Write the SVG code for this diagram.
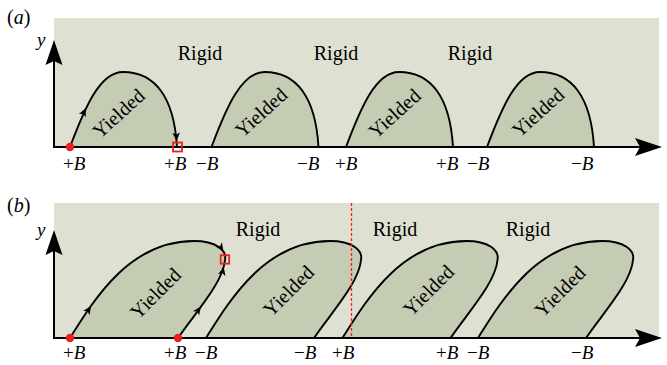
<svg xmlns="http://www.w3.org/2000/svg" xmlns:xlink="http://www.w3.org/1999/xlink" width="667" height="365" viewBox="0 0 667 365">
<style>
text{font-family:"Liberation Serif","Times New Roman",serif;fill:#000}
.bg{fill:#dee0d2}
.lobe{fill:#c4ccb3;stroke:#000;stroke-width:1.9}
.line{fill:none;stroke:#000;stroke-width:1.9}
.axis{stroke:#000;stroke-width:2;fill:none}
.lbl{font-size:19px}
.rig{font-size:20px}
.yl{font-size:20px}
.it{font-style:italic}
.dot{fill:#e8201f}
.sq{fill:none;stroke:#e8201f;stroke-width:1.8}
</style>
<defs>
<path id="ah" d="M0,0 L-8.5,-3.8 L-6.3,0 L-8.5,3.8 Z" fill="#000"/>
<path id="lobeA" d="M0,0 C15,-40 30,-75 53,-75 C85,-75 104,-50 107,0 Z"/>
<path id="lobeB" d="M0,0 C25,-40 60,-97 124,-97 C146,-97 157,-88 155,-78 C153,-55 125,-25 108,0 Z"/>
</defs>

<!-- Panel (a) -->
<g id="panelA">
<rect class="bg" x="54" y="18" width="605" height="129"/>
<text x="7" y="24" font-size="20">(<tspan class="it">a</tspan>)</text>
<g id="a-lobe1"><use xlink:href="#lobeA" class="lobe" transform="translate(70,147)"/>
<text class="yl" transform="translate(119,114) rotate(-42)" text-anchor="middle" y="6">Yielded</text></g>
<g id="a-lobe2"><use xlink:href="#lobeA" class="lobe" transform="translate(211.5,147)"/>
<text class="yl" transform="translate(261.5,113) rotate(-42)" text-anchor="middle" y="6">Yielded</text></g>
<g id="a-lobe3"><use xlink:href="#lobeA" class="lobe" transform="translate(346,147)"/>
<text class="yl" transform="translate(395,114) rotate(-42)" text-anchor="middle" y="6">Yielded</text></g>
<g id="a-lobe4"><use xlink:href="#lobeA" class="lobe" transform="translate(487,147)"/>
<text class="yl" transform="translate(538.5,113) rotate(-42)" text-anchor="middle" y="6">Yielded</text></g>
<text class="rig" x="200" y="60" text-anchor="middle">Rigid</text>
<text class="rig" x="336" y="60" text-anchor="middle">Rigid</text>
<text class="rig" x="470" y="60" text-anchor="middle">Rigid</text>
<g id="a-axes">
<line class="axis" x1="54" y1="147" x2="642" y2="147"/>
<line class="axis" x1="54" y1="148" x2="54" y2="58"/>
<path d="M662,147 L635,138 L640,147 L635,156 Z"/>
<path d="M54,40 L45.5,65 L54,61 L62.5,65 Z"/>
<text x="37" y="46" font-size="19" class="it">y</text>
</g>
<g id="a-ticks" class="lbl">
<text x="63" y="170">+<tspan class="it">B</tspan></text>
<text x="164" y="170">+<tspan class="it">B</tspan></text>
<text x="196" y="170">−<tspan class="it">B</tspan></text>
<text x="297" y="170">−<tspan class="it">B</tspan></text>
<text x="335" y="170">+<tspan class="it">B</tspan></text>
<text x="436" y="170">+<tspan class="it">B</tspan></text>
<text x="467" y="170">−<tspan class="it">B</tspan></text>
<text x="571" y="170">−<tspan class="it">B</tspan></text>
</g>
<g id="a-markers">
<use xlink:href="#ah" transform="translate(86,108) rotate(-64)"/>
<use xlink:href="#ah" transform="translate(176.7,141) rotate(86)"/>
<circle class="dot" cx="70" cy="147" r="4.2"/>
<rect class="sq" x="173" y="142.5" width="9" height="9"/>
</g>
</g>

<!-- Panel (b) -->
<g id="panelB">
<rect class="bg" x="54" y="203" width="605" height="135"/>
<text x="7" y="212" font-size="20">(<tspan class="it">b</tspan>)</text>
<g id="b-lobe1">
<path d="M70,338 C95,298 130,241 194,241 C216,241 227,250 225,260 C223,283 195,313 178,338 Z" fill="#c4ccb3"/>
<path class="line" d="M70,338 C95,298 130,241 194,241 C216,241 227,250 225,260"/>
<path class="line" d="M178,338 C195,313 223,283 225,260"/>
<text class="yl" transform="translate(156,294) rotate(-45)" text-anchor="middle" y="6">Yielded</text>
</g>
<g id="b-lobe2"><use xlink:href="#lobeB" class="lobe" transform="translate(206,338)"/>
<text class="yl" transform="translate(289,291.5) rotate(-45)" text-anchor="middle" y="6">Yielded</text></g>
<g id="b-lobe3"><use xlink:href="#lobeB" class="lobe" transform="translate(342.5,338)"/>
<text class="yl" transform="translate(429,291) rotate(-45)" text-anchor="middle" y="6">Yielded</text></g>
<g id="b-lobe4"><use xlink:href="#lobeB" class="lobe" transform="translate(478,338)"/>
<text class="yl" transform="translate(560.5,292) rotate(-45)" text-anchor="middle" y="6">Yielded</text></g>
<text class="rig" x="258" y="236" text-anchor="middle">Rigid</text>
<text class="rig" x="395" y="236" text-anchor="middle">Rigid</text>
<text class="rig" x="528" y="236" text-anchor="middle">Rigid</text>
<line x1="351.5" y1="203" x2="351.5" y2="338" stroke="#ff1a1a" stroke-width="1.3" stroke-dasharray="3 2"/>
<g id="b-axes">
<line class="axis" x1="54" y1="338" x2="642" y2="338"/>
<line class="axis" x1="54" y1="339" x2="54" y2="248"/>
<path d="M662,338 L635,329 L640,338 L635,347 Z"/>
<path d="M54,230 L45.5,255 L54,251 L62.5,255 Z"/>
<text x="37" y="236" font-size="19" class="it">y</text>
</g>
<g id="b-ticks" class="lbl">
<text x="63" y="359">+<tspan class="it">B</tspan></text>
<text x="164" y="359">+<tspan class="it">B</tspan></text>
<text x="195" y="359">−<tspan class="it">B</tspan></text>
<text x="294" y="359">−<tspan class="it">B</tspan></text>
<text x="332" y="359">+<tspan class="it">B</tspan></text>
<text x="436" y="359">+<tspan class="it">B</tspan></text>
<text x="467" y="359">−<tspan class="it">B</tspan></text>
<text x="571" y="359">−<tspan class="it">B</tspan></text>
</g>
<g id="b-markers">
<use xlink:href="#ah" transform="translate(91,306) rotate(-57)"/>
<use xlink:href="#ah" transform="translate(223.4,251.5) rotate(57)"/>
<use xlink:href="#ah" transform="translate(201,306.5) rotate(-54)"/>
<use xlink:href="#ah" transform="translate(223.8,267) rotate(-76)"/>
<circle class="dot" cx="70" cy="338" r="4.2"/>
<circle class="dot" cx="178" cy="338" r="4.2"/>
<rect class="sq" x="220.7" y="255.2" width="8.5" height="8.5"/>
</g>
</g>
</svg>
